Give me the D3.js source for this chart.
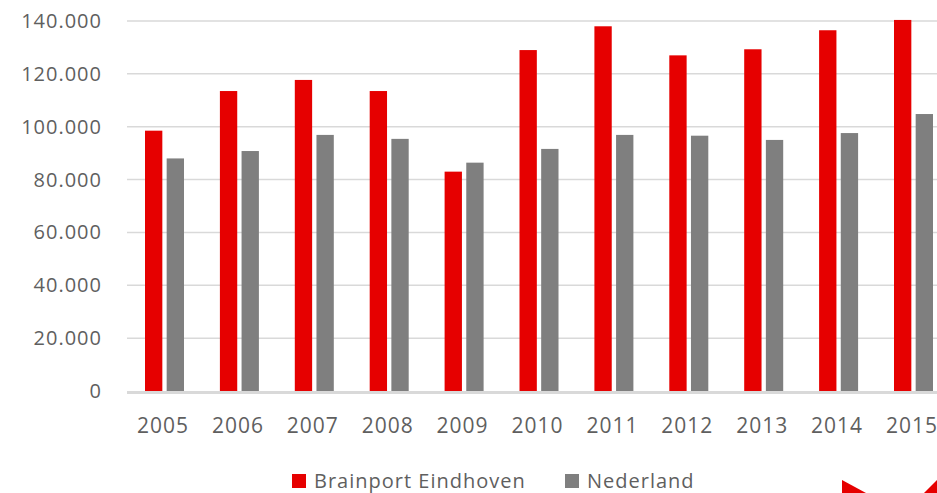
<!DOCTYPE html>
<html>
<head>
<meta charset="utf-8">
<script src="https://cdn.jsdelivr.net/npm/d3@7"></script>
<style>
  body { margin: 0; background: #fff; }
  text { font-family: "Open Sans", Roboto, sans-serif; fill: #5f5f5f; letter-spacing: 1px; }
</style>
</head>
<body>
<div id="vis-container"></div>
<script>
// data
var years = ['2005','2006','2007','2008','2009','2010','2011','2012','2013','2014','2015*']
var brainport = [98500, 113500, 117700, 113500, 83000, 129000, 138000, 127000, 129300, 136500, 140400]
var nederland = [88000, 90800, 96900, 95400, 86400, 91600, 96900, 96600, 95000, 97600, 104800]
var yTicks = [0, 20000, 40000, 60000, 80000, 100000, 120000, 140000]
var seriesNames = ['Brainport Eindhoven', 'Nederland']
var seriesColors = ['#e60000', '#7f7f7f']

var W = 937, H = 493
var margin = { top: 21, left: 127, bottom: 102 }
var plotH = H - margin.top - margin.bottom

var svg = d3.select('#vis-container').append('svg')
  .attr('width', W).attr('height', H)

var fmt = function (v) { return v === 0 ? '0' : d3.format(',')(v).replace(/,/g, '.') }

var x = d3.scaleBand().domain(years)
  .range([margin.left, margin.left + 74.9 * years.length])
  .paddingInner(0).paddingOuter(0)
var x1 = d3.scaleBand().domain([0, 1]).range([18, 57]).paddingInner(0.2)
var y = d3.scaleLinear().domain([0, 140000]).range([margin.top + plotH, margin.top])

// gridlines
svg.append('g').selectAll('line')
  .data(yTicks.slice(1))
  .enter().append('line')
  .attr('x1', margin.left).attr('x2', W)
  .attr('y1', function (d) { return y(d) }).attr('y2', function (d) { return y(d) })
  .attr('stroke', '#d9d9d9').attr('stroke-width', 1.5)

// y labels
svg.append('g').selectAll('text')
  .data(yTicks)
  .enter().append('text')
  .attr('x', 102).attr('y', function (d) { return y(d) })
  .attr('dy', '0.35em')
  .attr('text-anchor', 'end')
  .style('font-size', '20px')
  .text(fmt)

// bars
var groups = svg.append('g').selectAll('g')
  .data(years)
  .enter().append('g')
  .attr('transform', function (d) { return 'translate(' + x(d) + ',0)' })

groups.selectAll('rect')
  .data(function (d, i) { return [brainport[i], nederland[i]] })
  .enter().append('rect')
  .attr('x', function (d, j) { return x1(j) })
  .attr('width', x1.bandwidth())
  .attr('y', function (d) { return y(d) })
  .attr('height', function (d) { return y(0) - y(d) })
  .attr('fill', function (d, j) { return seriesColors[j] })

// baseline
svg.append('line')
  .attr('x1', margin.left).attr('x2', W)
  .attr('y1', y(0) + 1.5).attr('y2', y(0) + 1.5)
  .attr('stroke', '#d9d9d9').attr('stroke-width', 3)

// x labels (the last one runs off the edge, as in the original)
svg.append('g').selectAll('text')
  .data(years)
  .enter().append('text')
  .attr('x', function (d) { return x(d) + 10 })
  .attr('y', 433)
  .style('font-size', '21px')
  .text(function (d) { return d })

// legend
var legX = [292, 565]
var leg = svg.append('g').selectAll('g')
  .data(seriesNames)
  .enter().append('g')
  .attr('transform', function (d, i) { return 'translate(' + legX[i] + ',474)' })
leg.append('rect')
  .attr('width', 14).attr('height', 14)
  .attr('fill', function (d, i) { return seriesColors[i] })
leg.append('text')
  .attr('x', 22).attr('y', 14)
  .style('font-size', '20px')
  .text(function (d) { return d })

// cut-off logo corner
svg.append('path')
  .attr('d', 'M842,480 L866,493 L842,493 Z')
  .attr('fill', '#e60000')
svg.append('path')
  .attr('d', 'M937,480 L937,493 L924,493 Z')
  .attr('fill', '#e60000')
</script>
</body>
</html>
